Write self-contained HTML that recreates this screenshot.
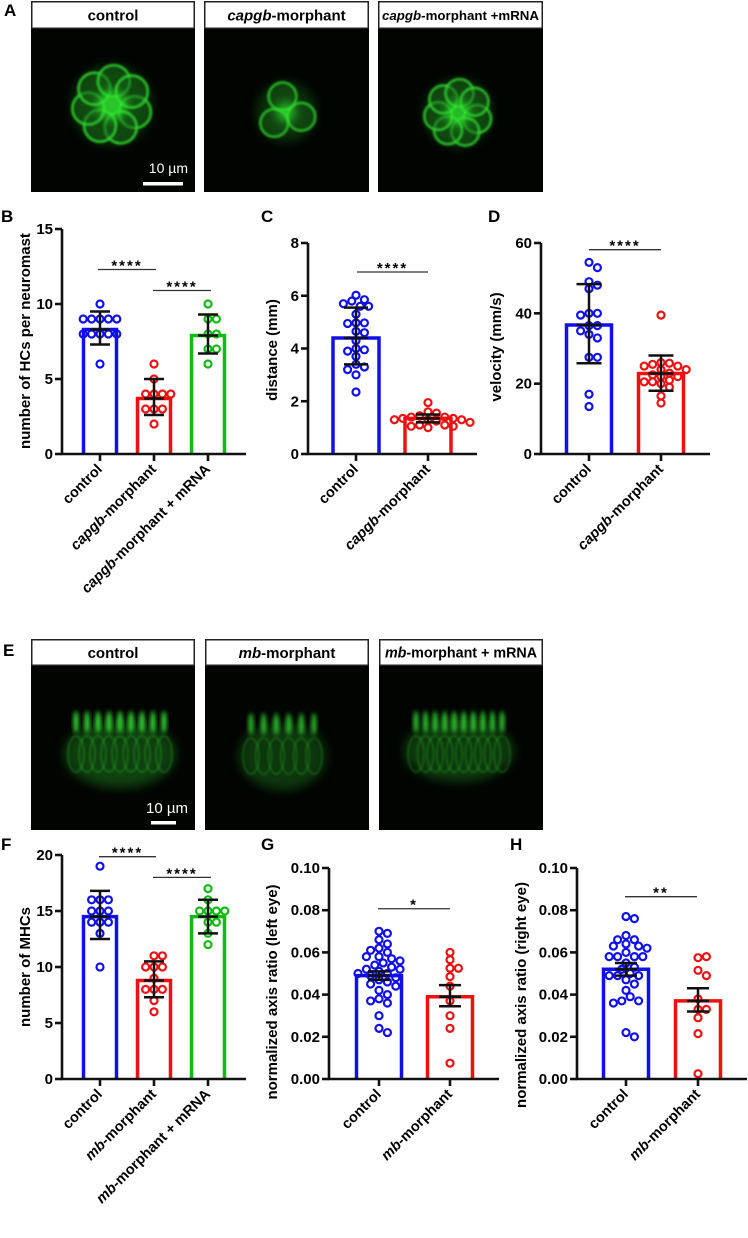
<!DOCTYPE html>
<html><head><meta charset="utf-8">
<style>
html,body{margin:0;padding:0;background:#fff;}
svg{display:block;font-family:"Liberation Sans",Arial,sans-serif;}
.lbl{font-weight:bold;font-size:17px;}
.tick{font-weight:bold;font-size:15px;}
.ytitle{font-weight:bold;font-size:15px;}
.xcat{font-weight:bold;font-size:14.5px;}
.hdr{font-weight:bold;}
</style></head>
<body>
<svg id="fig" width="748" height="1238" viewBox="0 0 748 1238" xmlns="http://www.w3.org/2000/svg">
<defs>
<filter id="blur2" x="-50%" y="-50%" width="200%" height="200%"><feGaussianBlur stdDeviation="2"/></filter>
<filter id="blur5" x="-50%" y="-50%" width="200%" height="200%"><feGaussianBlur stdDeviation="5"/></filter>
<filter id="blur1" x="-50%" y="-50%" width="200%" height="200%"><feGaussianBlur stdDeviation="1"/></filter>
</defs>
<g id="micro"></g>
<g id="charts"></g>
</svg>
<script>
// ---------- Panel B data ----------
const bCategories = ["control", "capgb-morphant", "capgb-morphant + mRNA"];
const bControl = [10, 9, 9, 9, 9, 9, 8, 8, 8, 8, 8, 6];
const bMorphant = [6, 5, 4, 4, 4, 4, 3, 3, 3, 2];
const bRescue = [10, 9, 9, 8, 8, 7, 7, 6];
const bMeans = [8.3, 3.7, 7.9];
const bErrLo = [7.3, 2.6, 6.7];
const bErrHi = [9.5, 5.0, 9.3];
const bTicks = [0, 5, 10, 15];
const bSigY = [12.3, 10.9];
const bSigLabels = ["****", "****"];
// ---------- Panel C data ----------
const cCategories = ["control", "capgb-morphant"];
const cControl = [6.02, 5.85, 5.8, 5.7, 5.6, 5.6, 5.3, 4.97, 4.97, 4.95, 4.65, 4.6, 4.3, 4.0, 3.95, 3.9, 3.7, 3.4, 3.3, 3.2, 3.0, 2.35];
const cMorphant = [1.95, 1.6, 1.55, 1.45, 1.4, 1.4, 1.35, 1.35, 1.3, 1.3, 1.3, 1.25, 1.2, 1.1, 1.1, 1.05, 1.05, 1.0];
const cMeans = [4.4, 1.35];
const cErrLo = [3.4, 1.2];
const cErrHi = [5.55, 1.5];
const cTicks = [0, 2, 4, 6, 8];
const cSigY = [6.9];
const cSigLabels = ["****"];
// ---------- Panel D data ----------
const dCategories = ["control", "capgb-morphant"];
const dControl = [54.5, 53, 49, 48, 47, 40, 40, 39.5, 36.5, 36.5, 35, 34, 33, 27.5, 27.5, 17, 13.5];
const dMorphant = [39.5, 26, 25.8, 25.5, 25, 25, 24, 24, 23, 22.5, 22, 22, 21, 20.5, 20.5, 20, 19, 16.5, 14.5];
const dMeans = [36.7, 22.9];
const dErrLo = [25.8, 18];
const dErrHi = [48.3, 28];
const dTicks = [0, 20, 40, 60];
const dSigY = [58.1];
const dSigLabels = ["****"];
// ---------- Panel F data ----------
const fCategories = ["control", "mb-morphant", "mb-morphant + mRNA"];
const fControl = [19, 16, 16, 16, 15, 15, 15, 14, 14, 14, 13, 10];
const fMorphant = [11, 11, 10, 10, 10, 9, 8, 8, 8, 7, 6];
const fRescue = [17, 16, 15, 15, 15, 15, 14, 14, 13, 12];
const fMeans = [14.5, 8.8, 14.5];
const fErrLo = [12.5, 7.3, 13];
const fErrHi = [16.8, 10.5, 16];
const fTicks = [0, 5, 10, 15, 20];
const fSigY = [19.85, 18];
const fSigLabels = ["****", "****"];
// ---------- Panel G data ----------
const gCategories = ["control", "mb-morphant"];
const gControl = [0.070, 0.069, 0.066, 0.064, 0.062, 0.061, 0.060, 0.058, 0.058, 0.057, 0.056, 0.055, 0.054, 0.053, 0.052, 0.052, 0.051, 0.050, 0.050, 0.049, 0.048, 0.047, 0.046, 0.045, 0.044, 0.042, 0.040, 0.038, 0.037, 0.036, 0.030, 0.024, 0.022];
const gMorphant = [0.060, 0.0565, 0.0525, 0.0525, 0.0485, 0.044, 0.037, 0.030, 0.024, 0.0075];
const gMeans = [0.049, 0.039];
const gErrLo = [0.047, 0.0345];
const gErrHi = [0.051, 0.0445];
const gTicks = [0, 0.02, 0.04, 0.06, 0.08, 0.10];
const gSigY = [0.0807];
const gSigLabels = ["*"];
// ---------- Panel H data ----------
const hCategories = ["control", "mb-morphant"];
const hControl = [0.077, 0.076, 0.068, 0.066, 0.066, 0.064, 0.063, 0.063, 0.062, 0.060, 0.058, 0.058, 0.058, 0.058, 0.055, 0.053, 0.052, 0.050, 0.049, 0.049, 0.049, 0.047, 0.045, 0.042, 0.039, 0.037, 0.037, 0.036, 0.022, 0.020];
const hMorphant = [0.0575, 0.058, 0.0515, 0.049, 0.038, 0.033, 0.033, 0.029, 0.0215, 0.0025];
const hMeans = [0.052, 0.037];
const hErrLo = [0.049, 0.032];
const hErrHi = [0.055, 0.043];
const hTicks = [0, 0.02, 0.04, 0.06, 0.08, 0.10];
const hSigY = [0.0864];
const hSigLabels = ["**"];

const NS = "http://www.w3.org/2000/svg";
const COLORS = ["#1010ee", "#ee1111", "#11bb11"];
function mk(parent, tag, attrs) {
  const e = document.createElementNS(NS, tag);
  for (const k in attrs) e.setAttribute(k, attrs[k]);
  parent.appendChild(e);
  return e;
}
const root = document.getElementById("charts");

function addCatLabel(t, name) {
  const m = name.match(/^(capgb|mb)(.*)$/);
  if (m) {
    const a = mk(t, "tspan", {"font-style": "italic"}); a.textContent = m[1];
    const b = mk(t, "tspan", {}); b.textContent = m[2];
  } else t.textContent = name;
}

function drawChart(cfg) {
  const g = mk(root, "g", {});
  
  
  const yS = v => cfg.y0 - (v / cfg.max) * (cfg.y0 - cfg.yTop);
  const L = mk(g, "text", {x: cfg.letterX, y: cfg.letterY, class: "lbl"});
  L.textContent = cfg.letter;
  
  
  cfg.means.forEach((m, i) => {
    const cx = cfg.centers[i], w = cfg.barW;
    const r = mk(g, "path", {d: `M${cx - w/2},${cfg.y0} V${yS(m)} H${cx + w/2} V${cfg.y0}`, fill: "none", stroke: COLORS[i], "stroke-width": 3.5});
    
    
  });
  const rad = 3.5, minD = 7;
  cfg.series.forEach((arr, i) => {
    const placed = [];
    const cx = cfg.centers[i];
    arr.forEach(v => {
      const y = yS(v);
      let dx = 0;
      for (let k = 0; k < 40; k++) {
        const cand = (k % 2 ? 1 : -1) * Math.ceil(k / 2) * 4.2;
        if (placed.every(p => Math.hypot(p[0] - (cx + cand), p[1] - y) >= minD)) { dx = cand; break; }
      }
      placed.push([cx + dx, y]);
      const c = mk(g, "circle", {cx: cx + dx, cy: y, r: rad, fill: "none", stroke: COLORS[i], "stroke-width": 2.2});
      
      
    });
  });
  cfg.means.forEach((m, i) => {
    const cx = cfg.centers[i], cw = cfg.capW / 2;
    const e = mk(g, "path", {d: `M${cx},${yS(cfg.lo[i])} V${yS(cfg.hi[i])} M${cx - cw},${yS(cfg.lo[i])} H${cx + cw} M${cx - cw},${yS(cfg.hi[i])} H${cx + cw} M${cx - cw},${yS(m)} H${cx + cw}`, stroke: "#111", "stroke-width": 2.5, fill: "none"});
    
    
  });
  const ax = mk(g, "path", {d: `M${cfg.x0},${yS(cfg.ticks[cfg.ticks.length-1])} V${cfg.y0} H${cfg.xEnd}`, stroke: "#111", "stroke-width": 2.6, fill: "none"});
  
  
  cfg.ticks.forEach(t => {
    const y = yS(t);
    mk(g, "line", {x1: cfg.x0 - 7, x2: cfg.x0, y1: y, y2: y, stroke: "#111", "stroke-width": 2.6});
    const tt = mk(g, "text", {x: cfg.x0 - 9, y: y + 5, "text-anchor": "end", class: "tick"});
    tt.textContent = cfg.dec ? t.toFixed(cfg.dec) : String(t);
    
    
  });
  cfg.centers.forEach((cx, i) => {
    mk(g, "line", {x1: cx, x2: cx, y1: cfg.y0, y2: cfg.y0 + 7, stroke: "#111", "stroke-width": 2.6});
    const t = mk(g, "text", {transform: `translate(${cx + 3},${cfg.y0 + 16}) rotate(-45)`, "text-anchor": "end", class: "xcat"});
    addCatLabel(t, cfg.categories[i]);
    
    
  });
  const yt = mk(g, "text", {transform: `translate(${cfg.titleX},${cfg.titleY}) rotate(-90)`, "text-anchor": "middle", class: "ytitle"});
  yt.textContent = cfg.title;
  
  
  cfg.sig.forEach((s, k) => {
    const y = yS(cfg.sigY[k]);
    const l = mk(g, "line", {x1: s[0], x2: s[1], y1: y, y2: y, stroke: "#333", "stroke-width": 1.3});
    
    
    const st = mk(g, "text", {x: (s[0] + s[1]) / 2, y: y + 1, "text-anchor": "middle", "font-size": "15", "font-weight": "bold", "letter-spacing": "2"});
    st.textContent = cfg.sigLabels[k];
    
    
  });
}

drawChart({name: "chart-b-hair-cells", letter: "B", letterX: 1, letterY: 222, x0: 62, xEnd: 246, yTop: 229, y0: 454, max: 15, ticks: bTicks,
  centers: [100, 154, 208], barW: 33, capW: 20, categories: bCategories, series: [bControl, bMorphant, bRescue],
  means: bMeans, lo: bErrLo, hi: bErrHi, title: "number of HCs per neuromast", titleX: 30, titleY: 341,
  sigY: bSigY, sigLabels: bSigLabels, sig: [[98, 156], [153, 211]]});
drawChart({name: "chart-c-distance", letter: "C", letterX: 261, letterY: 222, x0: 308, xEnd: 477, yTop: 243, y0: 454, max: 8, ticks: cTicks,
  centers: [356, 428], barW: 46, capW: 24, categories: cCategories, series: [cControl, cMorphant],
  means: cMeans, lo: cErrLo, hi: cErrHi, title: "distance (mm)", titleX: 277, titleY: 350,
  sigY: cSigY, sigLabels: cSigLabels, sig: [[357, 428]]});
drawChart({name: "chart-d-velocity", letter: "D", letterX: 488, letterY: 222, x0: 541, xEnd: 710, yTop: 243, y0: 454, max: 60, ticks: dTicks,
  centers: [589, 661], barW: 45, capW: 25, categories: dCategories, series: [dControl, dMorphant],
  means: dMeans, lo: dErrLo, hi: dErrHi, title: "velocity (mm/s)", titleX: 501, titleY: 347,
  sigY: dSigY, sigLabels: dSigLabels, sig: [[589, 661]]});
drawChart({name: "chart-f-mhcs", letter: "F", letterX: 1, letterY: 850, x0: 62, xEnd: 246, yTop: 855, y0: 1079, max: 20, ticks: fTicks,
  centers: [100, 154, 208], barW: 33, capW: 20, categories: fCategories, series: [fControl, fMorphant, fRescue],
  means: fMeans, lo: fErrLo, hi: fErrHi, title: "number of MHCs", titleX: 30, titleY: 967,
  sigY: fSigY, sigLabels: fSigLabels, sig: [[99, 156], [153, 211]]});
drawChart({name: "chart-g-left-eye", letter: "G", letterX: 261, letterY: 850, x0: 329, xEnd: 499, yTop: 868, y0: 1079, max: 0.10, ticks: gTicks, dec: 2,
  centers: [379, 450], barW: 45, capW: 22, categories: gCategories, series: [gControl, gMorphant],
  means: gMeans, lo: gErrLo, hi: gErrHi, title: "normalized axis ratio (left eye)", titleX: 277, titleY: 992,
  sigY: gSigY, sigLabels: gSigLabels, sig: [[378, 450]]});
drawChart({name: "chart-h-right-eye", letter: "H", letterX: 510, letterY: 850, x0: 577, xEnd: 747, yTop: 868, y0: 1079, max: 0.10, ticks: hTicks, dec: 2,
  centers: [626, 698], barW: 45, capW: 22, categories: hCategories, series: [hControl, hMorphant],
  means: hMeans, lo: hErrLo, hi: hErrHi, title: "normalized axis ratio (right eye)", titleX: 526, titleY: 995,
  sigY: hSigY, sigLabels: hSigLabels, sig: [[625, 697]]});

// ---------- micrographs ----------
const micro = document.getElementById("micro");
function tile(x, y, w, hh, h, label, name) {
  const g = mk(micro, "g", {});
  
  
  mk(g, "rect", {x: x, y: y + hh, width: w, height: h - hh, fill: "#020402"});
  const hb = mk(g, "rect", {x: x + 0.75, y: y + 0.75, width: w - 1.5, height: hh - 1.5, fill: "#fff", stroke: "#222", "stroke-width": 1.5});
  
  
  const fs = label.small || 15;
  const t = mk(g, "text", {x: x + w / 2, y: y + hh / 2 + fs * 0.36, "text-anchor": "middle", class: "hdr", style: "font-size:" + fs + "px"});
  if (label.it) { const a = mk(t, "tspan", {"font-style": "italic"}); a.textContent = label.it; }
  const b = mk(t, "tspan", {}); b.textContent = label.rest;
  
  
  return g;
}
function flower(g, cx, cy, n, rr, pr, op) {
  mk(g, "circle", {cx: cx, cy: cy, r: rr + pr, fill: "#1c8a1c", opacity: 0.35 * op, filter: "url(#blur5)"});
  for (let i = 0; i < n; i++) {
    const a = i * 2 * Math.PI / n + 0.3;
    mk(g, "circle", {cx: cx + rr * Math.cos(a), cy: cy + rr * Math.sin(a), r: pr, fill: "#0f5e0f", "fill-opacity": 0.5 * op, stroke: "#2fd42f", "stroke-opacity": op, "stroke-width": 2.2, filter: "url(#blur1)"});
  }
  mk(g, "circle", {cx: cx, cy: cy, r: rr * 0.6, fill: "#33ee33", opacity: 0.8 * op, filter: "url(#blur5)"});
}
let t1 = tile(31, 1, 164, 28, 191, {rest: "control"}, "image-a-control");
flower(t1, 112, 105, 7, 24, 16, 1);
mk(t1, "text", {x: 188, y: 173, "text-anchor": "end", fill: "#fff", "font-size": "14"}).textContent = "10 µm";
mk(t1, "rect", {x: 143, y: 182, width: 40, height: 3.5, fill: "#fff"});
let t2 = tile(204, 1, 165, 28, 191, {it: "capgb", rest: "-morphant"}, "image-a-capgb-morphant");
flower(t2, 286, 112, 3, 16, 14, 0.9);
let t3 = tile(378, 1, 165, 28, 191, {it: "capgb", rest: "-morphant +mRNA", small: 13.3}, "image-a-capgb-rescue");
flower(t3, 458, 113, 7, 20, 14, 0.95);

function bundle(g, x0, x1, top, bottom, n, op) {
  const mid = (x0 + x1) / 2;
  mk(g, "ellipse", {cx: mid, cy: (top + bottom) / 2 + 10, rx: (x1 - x0) / 2 + 6, ry: (bottom - top) / 2, fill: "#1a7a1a", opacity: 0.5 * op, filter: "url(#blur5)"});
  for (let i = 0; i < n; i++) {
    const x = x0 + 6 + i * (x1 - x0 - 12) / (n - 1);
    mk(g, "ellipse", {cx: x, cy: top + 44, rx: 8, ry: 18, fill: "none", stroke: "#2cb82c", "stroke-width": 1.2, opacity: 0.55 * op, filter: "url(#blur1)"});
    mk(g, "ellipse", {cx: x, cy: top + 12, rx: 2.4, ry: 11, fill: "#3cff3c", opacity: 0.9 * op, filter: "url(#blur2)"});
  }
}
let e1 = tile(31, 639, 164, 27, 191, {rest: "control"}, "image-e-control");
bundle(e1, 70, 170, 710, 778, 9, 1);
mk(e1, "text", {x: 188, y: 813, "text-anchor": "end", fill: "#fff", "font-size": "15"}).textContent = "10 µm";
mk(e1, "rect", {x: 151, y: 821, width: 25, height: 3.5, fill: "#fff"});
let e2 = tile(205, 639, 164, 27, 191, {it: "mb", rest: "-morphant"}, "image-e-mb-morphant");
bundle(e2, 245, 320, 712, 780, 6, 0.85);
let e3 = tile(379, 639, 164, 27, 191, {it: "mb", rest: "-morphant + mRNA", small: 14.3}, "image-e-mb-rescue");
bundle(e3, 410, 508, 710, 772, 10, 0.9);

const la = mk(micro, "text", {x: 4, y: 16, class: "lbl"}); la.textContent = "A";


const le = mk(micro, "text", {x: 3, y: 656, class: "lbl"}); le.textContent = "E";


</script>
</body></html>
